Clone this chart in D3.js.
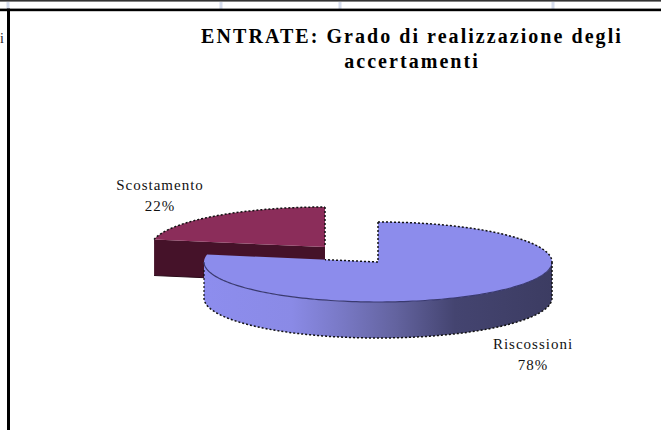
<!DOCTYPE html>
<html><head><meta charset="utf-8"><style>html,body{margin:0;padding:0;background:#fff}svg{display:block}</style>
<script src="https://cdn.jsdelivr.net/npm/d3@7/dist/d3.min.js"></script></head><body>
<svg id="c" width="661" height="430"></svg>
<script>
const categories=["Riscossioni","Scostamento"];
const values=[78,22];
const titleLines=["ENTRATE: Grado di realizzazione degli","accertamenti"];
const topColors=["#8c8cec","#8b2d5a"];
const svg=d3.select("#c");
const W=661,H=430,rx=174,ry=40,depth=36;
const centers=[{x:378,y:262},{x:325,y:247}];
// frame
svg.append("rect").attr("width",W).attr("height",H).attr("fill","#fff");
[8,221,340,553].forEach(x=>svg.append("rect").attr("x",x-1.5).attr("y",2).attr("width",3).attr("height",7).attr("fill","#d5dcec"));
svg.append("rect").attr("x",0).attr("y",0).attr("width",W).attr("height",1.6).attr("fill","#333");
svg.append("rect").attr("x",0).attr("y",8.6).attr("width",W).attr("height",2.6).attr("fill","#000");
svg.append("rect").attr("x",7).attr("y",8.6).attr("width",3).attr("height",H).attr("fill","#000");
svg.append("text").attr("x",0).attr("y",43).attr("font-family","Liberation Serif").attr("font-size",14).attr("fill","#222").text("i");
const defs=svg.append("defs");
const g=defs.append("linearGradient").attr("id","side").attr("gradientUnits","userSpaceOnUse").attr("x1",205).attr("x2",552).attr("y1",0).attr("y2",0);
[[0,"#8d8dee"],[0.25,"#8a8ae6"],[0.4,"#7878c4"],[0.55,"#63639f"],[0.72,"#444470"],[1,"#3c3c62"]].forEach(s=>g.append("stop").attr("offset",s[0]).attr("stop-color",s[1]));
const pieGen=d3.pie().sort(null).value(d=>d)(values);
const px=(c,a)=>c.x+rx*Math.sin(a), py=(c,a,dz=0)=>c.y-ry*Math.cos(a)+dz;
function arcPts(c,a0,a1,dz=0){const n=Math.max(2,Math.ceil(Math.abs(a1-a0)*40));return d3.range(n+1).map(i=>{const a=a0+(a1-a0)*i/n;return [px(c,a),py(c,a,dz)]});}
const line=d3.line();
const dots=(sel,w=1.5,d="2 2")=>sel.attr("fill","none").attr("stroke","#111").attr("stroke-width",w).attr("stroke-dasharray",d);
function slice(i){
 const p=pieGen[i],c=centers[i],a0=p.startAngle,a1=p.endAngle;
 const top=[[c.x,c.y],...arcPts(c,a0,a1)];
 const G=svg.append("g");
 if(i===1){
  const lp=[px(c,a0),py(c,a0)];
  const faces=[lp,[c.x,c.y],[c.x,c.y+depth],[lp[0],lp[1]+depth]];
  G.append("path").attr("d",line(faces)+"Z").attr("fill","#451229");
  G.append("path").attr("d",line(top)+"Z").attr("fill",topColors[1]);
  dots(G.append("path").attr("d",line(arcPts(c,a0,a1))));
  dots(G.append("path").attr("d",line([[c.x,c.y-ry],[c.x,c.y]])));
  G.append("path").attr("d",line([[lp[0],lp[1]+depth],[c.x,c.y+depth]])).attr("stroke","#2a0a18").attr("stroke-width",1);
 } else {
  const s0=Math.PI/2,s1=Math.PI*1.5;
  const outer=arcPts(c,s0,s1),bottom=arcPts(c,s1,s0,depth);
  G.append("path").attr("d",line([...outer,...bottom])+"Z").attr("fill","url(#side)");
  G.append("path").attr("d",line(top)+"Z").attr("fill",topColors[0]);
  G.append("path").attr("d",line(arcPts(c,s0,s1))).attr("fill","none").attr("stroke","#3a3a70").attr("stroke-width",1.2);
  dots(G.append("path").attr("d",line(bottom)));
  dots(G.append("path").attr("d",line(arcPts(c,a0,s0))));
  // cut edge: dotted only where it is seen against the white gap
  const ep=[px(c,a1),py(c,a1)],gapEnd=centers[1].x,t=(c.x-gapEnd)/(c.x-ep[0]);
  dots(G.append("path").attr("d",line([[c.x,c.y-ry],[c.x,c.y],[gapEnd,c.y+(ep[1]-c.y)*t]])));
  dots(G.append("path").attr("d",line([[px(c,s0),c.y],[px(c,s0),c.y+depth]])));
  dots(G.append("path").attr("d",line([[px(c,s1),c.y+8],[px(c,s1),c.y+depth]])),1.2);
 }
}
slice(1);slice(0);
// title
const T=svg.append("text").attr("font-family","Liberation Serif").attr("font-weight","bold").attr("font-size",20).attr("letter-spacing",2.05).attr("text-anchor","middle").attr("fill","#000");
titleLines.forEach((t,i)=>T.append("tspan").attr("x",412).attr("y",43+i*25).text(t));
// labels
const lab=[{x:533,y:349},{x:160,y:190}];
categories.forEach((n,i)=>{
 const t=svg.append("text").attr("font-family","Liberation Serif").attr("font-size",15).attr("letter-spacing",1).attr("text-anchor","middle").attr("fill","#111");
 t.append("tspan").attr("x",lab[i].x).attr("y",lab[i].y).text(n);
 t.append("tspan").attr("x",lab[i].x).attr("y",lab[i].y+20.5).text(values[i]+"%");
});
</script></body></html>
